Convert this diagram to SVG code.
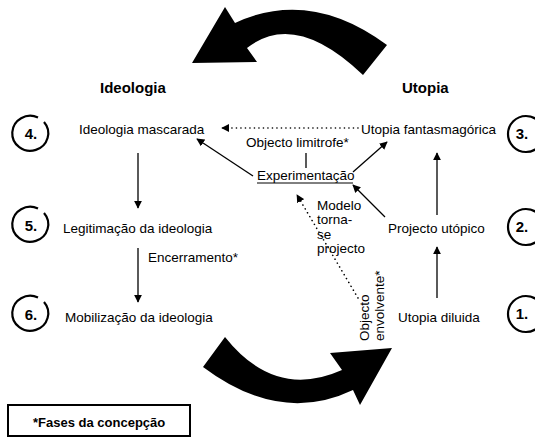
<svg xmlns="http://www.w3.org/2000/svg" width="535" height="438" viewBox="0 0 535 438">
<defs>
<marker id="ah" viewBox="0 0 10 10" refX="9" refY="5" markerWidth="8" markerHeight="8" markerUnits="userSpaceOnUse" orient="auto">
<path d="M0,0 L10,5 L0,10 Z" fill="#000"/>
</marker>
</defs>
<style>
text{font-family:"Liberation Sans",Arial,sans-serif;fill:#000}
.t{font-size:13.5px}
.h{font-size:15px;font-weight:bold}
.n{font-size:15px;font-weight:bold;text-anchor:middle}
.c{fill:none;stroke:#000;stroke-width:2.2}
.a{stroke:#000;stroke-width:1.3;fill:none;marker-end:url(#ah)}
.d{stroke:#000;stroke-width:1.6;fill:none;stroke-dasharray:0.1 4.4;stroke-linecap:round;marker-end:url(#ah)}
.big{fill:#000}
</style>
<rect width="535" height="438" fill="#fff"/>
<g id="cycle-arrows">
<path class="big" d="M192,63 L225,7 L235,23 Q310,-12 387,45 L363,75 Q295,10 247,48 L257,62 Z"/>
<path class="big" d="M225,337 Q275,400 342,370 L330,353 L392,348 L360,405 L353,390 Q280,425 203,367 Z"/>
</g>
<g id="headers">
<text class="h" x="100" y="93">Ideologia</text>
<text class="h" x="402" y="93">Utopia</text>
</g>
<g id="n4"><path class="c" d="M38,117.5 A18,17.5 0 1 0 44,122"/><text class="n" x="31" y="139">4.</text></g>
<g id="n5"><path class="c" d="M38,208.5 A18,17.5 0 1 0 44,213"/><text class="n" x="31" y="231">5.</text></g>
<g id="n6"><path class="c" d="M38,297.5 A18,17.5 0 1 0 44,302"/><text class="n" x="31" y="320">6.</text></g>
<g id="n3"><circle class="c" cx="526" cy="134" r="18"/><text class="n" x="522" y="139">3.</text></g>
<g id="n2"><circle class="c" cx="526" cy="227" r="18"/><text class="n" x="522" y="232">2.</text></g>
<g id="n1"><circle class="c" cx="526" cy="314" r="18"/><text class="n" x="522" y="319">1.</text></g>
<g id="ideologia-mascarada"><text class="t" x="79" y="134">Ideologia mascarada</text></g>
<g id="utopia-fantasmagorica"><text class="t" x="361" y="134">Utopia fantasmagórica</text></g>
<g id="experimentacao"><text class="t" x="257" y="180">Experimentação</text><line x1="257" y1="183" x2="353" y2="183" stroke="#000" stroke-width="1"/></g>
<g id="legitimacao"><text class="t" x="63" y="233">Legitimação da ideologia</text></g>
<g id="mobilizacao"><text class="t" x="65" y="322">Mobilização da ideologia</text></g>
<g id="projecto-utopico"><text class="t" x="388" y="233">Projecto utópico</text></g>
<g id="utopia-diluida"><text class="t" x="398" y="322">Utopia diluida</text></g>
<g id="connectors">
<line class="a" x1="138" y1="153" x2="138" y2="208"/>
<line class="a" x1="138" y1="248" x2="138" y2="302"/>
<line class="a" x1="437" y1="215" x2="437" y2="153"/>
<line class="a" x1="437" y1="298" x2="437" y2="247"/>
<line class="a" x1="253" y1="176" x2="197" y2="139"/>
<line class="a" x1="353" y1="172" x2="387" y2="142"/>
<line class="a" x1="385" y1="217" x2="353" y2="185"/>
<line x1="306" y1="153" x2="306" y2="168" stroke="#000" stroke-width="1.3"/>
<line class="d" x1="358" y1="128" x2="222" y2="128"/>
<line class="d" x1="358" y1="298" x2="297" y2="195"/>
</g>
<g id="labels">
<text class="t" x="246" y="147">Objecto limitrofe*</text>
<text class="t" x="148" y="262">Encerramento*</text>
<text class="t" x="317" y="210">Modelo</text>
<text class="t" x="317" y="224">torna-</text>
<text class="t" x="317" y="239">se</text>
<text class="t" x="317" y="253">projecto</text>
<text class="t" transform="translate(369,341) rotate(-90)">Objecto</text>
<text class="t" transform="translate(384,341) rotate(-90)">envolvente*</text>
</g>
<g id="legend">
<rect x="8" y="405" width="182" height="31" fill="none" stroke="#000" stroke-width="2"/>
<text x="33" y="427" style="font-size:13px;font-weight:bold">*Fases da concepção</text>
</g>
</svg>
